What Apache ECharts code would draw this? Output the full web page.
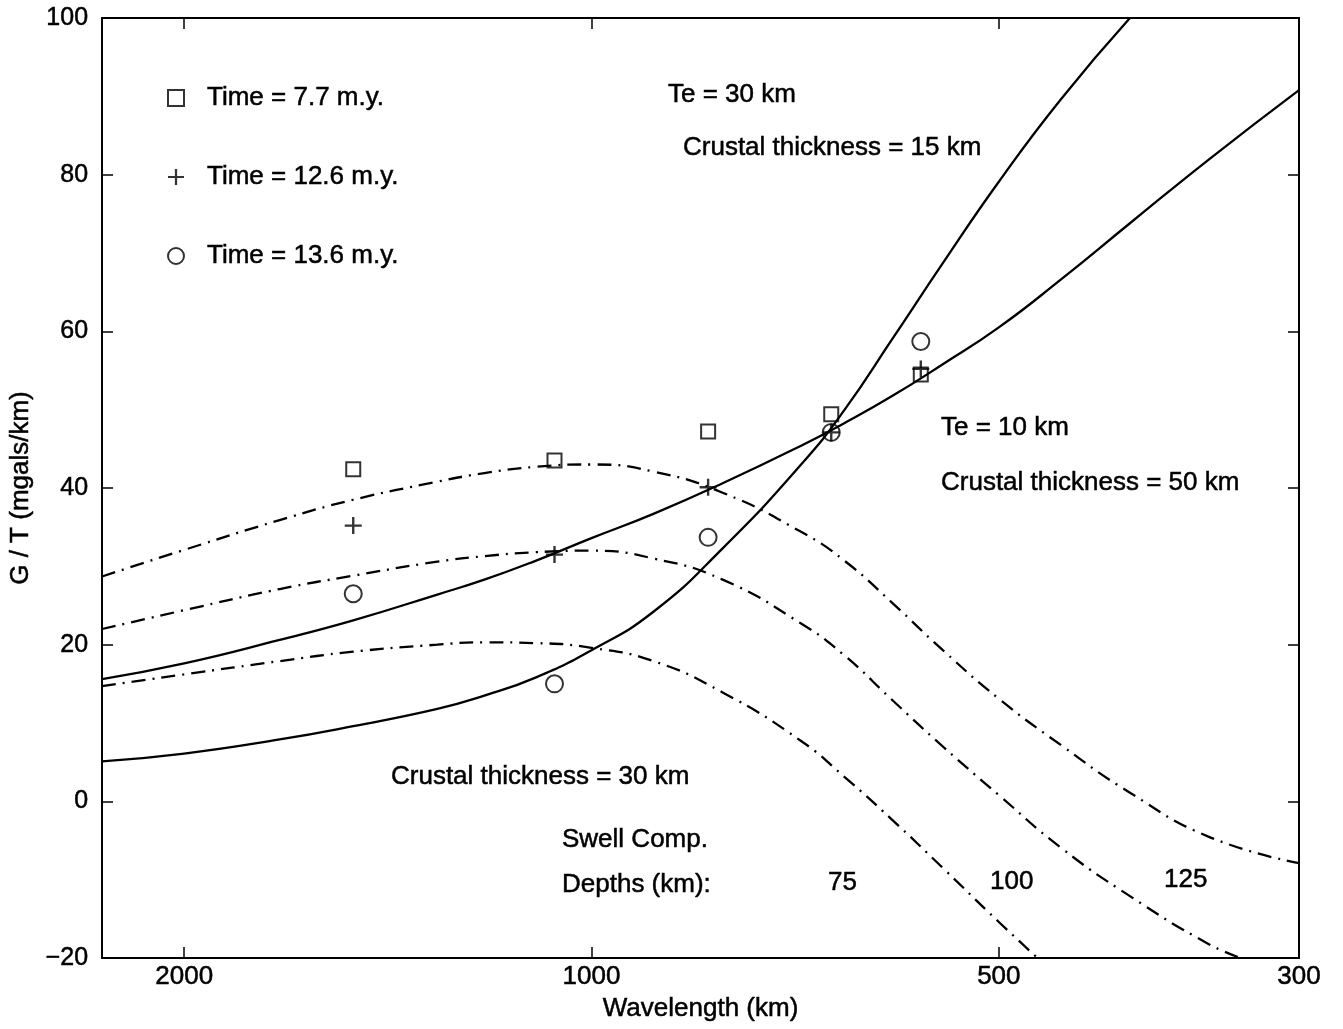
<!DOCTYPE html>
<html>
<head>
<meta charset="utf-8">
<title>G/T versus wavelength</title>
<script src="https://cdn.jsdelivr.net/npm/echarts@6/dist/echarts.min.js"></script>
<style>
  html, body { margin: 0; padding: 0; background: #ffffff; }
  #chart { width: 1343px; height: 1029px; }
</style>
</head>
<body>
<div id="chart"></div>
<script>
// Wavelength sample points (km) for the model curves
const wavelengths = [2300, 2000, 1700, 1500, 1300, 1200, 1100, 1000, 900, 800, 700, 650, 600, 550, 500, 450, 400, 350, 300];

// Te = 10 km, crustal thickness = 50 km
const te10Crust50 = [15.6, 17.6, 20.6, 23.1, 26.4, 28.3, 30.7, 33.6, 36.7, 40.6, 45.4, 48.3, 51.7, 55.8, 60.5, 66.6, 73.8, 81.9, 90.8];

// Te = 30 km, crustal thickness = 15 km (leaves the frame at the top near 400 km)
const te30Wavelengths = [2300, 2000, 1700, 1500, 1300, 1200, 1100, 1000, 900, 800, 700, 650, 600, 550, 500, 450, 400];
const te30Crust15 = [5.1, 6.1, 7.9, 9.6, 11.8, 13.5, 15.8, 19.3, 24.2, 32.3, 43.0, 50.0, 58.9, 68.7, 79.1, 89.6, 100.0];

// Swell compensation, crustal thickness = 30 km, depths 75 / 100 / 125 km
const swell75Wavelengths = [2300, 2000, 1700, 1500, 1300, 1200, 1100, 1000, 900, 800, 700, 650, 600, 550, 500, 460];
const swell75 = [14.7, 16.2, 17.9, 19.1, 20.0, 20.3, 20.2, 19.6, 17.9, 13.9, 7.7, 3.1, -2.3, -8.5, -15.4, -21.2];

const swell100Wavelengths = [2300, 2000, 1700, 1500, 1300, 1200, 1100, 1000, 900, 800, 700, 650, 600, 550, 500, 450, 400, 350, 330];
const swell100 = [22.0, 24.4, 27.1, 28.8, 30.6, 31.3, 31.8, 32.0, 31.0, 28.3, 22.7, 18.6, 13.0, 7.0, 0.8, -5.9, -12.1, -18.2, -20.1];

const swell125 = [28.7, 32.1, 35.9, 38.5, 40.8, 41.9, 42.7, 43.0, 42.1, 39.4, 34.4, 30.7, 25.4, 19.3, 13.1, 7.2, 1.1, -4.5, -7.9];

// Observed G/T ratios
const obsWavelengths = [1500, 1065, 820, 665, 571];
const time77 = [42.4, 43.5, 47.2, 49.4, 54.5];
const time126 = [35.2, 31.5, 40.1, 47.1, 55.2];
const time136 = [26.5, 15.0, 33.7, 47.1, 58.7];

const seriesNames = ['Time = 7.7 m.y.', 'Time = 12.6 m.y.', 'Time = 13.6 m.y.'];

// Axis ticks
const xTicks = [2000, 1000, 500, 300];
const yMin = -20, yMax = 100, yStep = 20;

const FONT = '"Liberation Sans", Arial, Helvetica, sans-serif';
const INK = '#000000';
const INK_WEIGHT = 0.5; // thin outline that gives the lettering a little more weight

const pairs = (xs, ys) => xs.map((x, i) => [x, ys[i]]);

const plusPath = 'path://M8.6,0H11.4V8.6H20V11.4H11.4V20H8.6V11.4H0V8.6H8.6Z';

function curve(data, dashed) {
  return {
    type: 'line',
    data: data,
    showSymbol: false,
    symbol: 'none',
    smooth: 0.5,
    clip: true,
    silent: true,
    z: 2,
    lineStyle: {
      color: INK,
      width: 2.3,
      type: dashed ? [14, 7, 2, 7] : 'solid'
    }
  };
}

function scatter(name, ys, symbol, size, filled) {
  return {
    type: 'scatter',
    name: name,
    data: pairs(obsWavelengths, ys),
    symbol: symbol,
    symbolSize: size,
    z: 5,
    itemStyle: filled
      ? { color: INK, borderWidth: 0 }
      : { color: 'rgba(0,0,0,0)', borderColor: INK, borderWidth: 2 }
  };
}

const textWeight = { textBorderColor: INK, textBorderWidth: INK_WEIGHT };

const logAxisBase = {
  type: 'log',
  logBase: 10,
  min: 300,
  max: 2300,
  inverse: true,
  splitLine: { show: false },
  axisLine: { show: true, onZero: false, lineStyle: { color: INK, width: 2 } },
  axisTick: { show: true, inside: true, length: 11, customValues: xTicks, lineStyle: { color: INK, width: 1.5 } },
  minorTick: { show: false }
};

const valueAxisBase = {
  type: 'value',
  min: yMin,
  max: yMax,
  interval: yStep,
  splitLine: { show: false },
  axisLine: { show: true, onZero: false, lineStyle: { color: INK, width: 2 } },
  axisTick: { show: true, inside: true, length: 11, lineStyle: { color: INK, width: 1.5 } }
};

const chart = echarts.init(document.getElementById('chart'), null, { renderer: 'canvas' });

chart.setOption({
  animation: false,
  backgroundColor: '#ffffff',
  textStyle: { fontFamily: FONT, color: INK },
  grid: { left: 98, right: 44, top: 18, bottom: 71, containLabel: false },
  legend: {
    orient: 'vertical',
    left: 162,
    top: 78,
    itemWidth: 16,
    itemHeight: 16,
    itemGap: 49,
    selectedMode: false,
    data: seriesNames,
    textStyle: Object.assign({ fontFamily: FONT, fontSize: 26, color: INK, lineHeight: 30, padding: [0, 0, 0, 18] }, textWeight)
  },
  xAxis: [
    Object.assign({}, logAxisBase, {
      position: 'bottom',
      name: 'Wavelength (km)',
      nameLocation: 'middle',
      nameGap: 38,
      nameTextStyle: Object.assign({ fontFamily: FONT, fontSize: 26, color: INK }, textWeight),
      axisLabel: Object.assign({
        show: true,
        customValues: xTicks,
        margin: 6,
        fontFamily: FONT,
        fontSize: 26,
        color: INK,
        formatter: v => String(Math.round(v))
      }, textWeight)
    }),
    Object.assign({}, logAxisBase, {
      position: 'top',
      axisLabel: { show: false }
    })
  ],
  yAxis: [
    Object.assign({}, valueAxisBase, {
      position: 'left',
      name: 'G / T (mgals/km)',
      nameLocation: 'middle',
      nameGap: 46,
      nameTextStyle: Object.assign({ fontFamily: FONT, fontSize: 26, color: INK }, textWeight),
      axisLabel: Object.assign({
        margin: 14,
        fontFamily: FONT,
        fontSize: 25,
        color: INK,
        formatter: v => (v < 0 ? '\u2212' + Math.abs(v) : String(v))
      }, textWeight)
    }),
    Object.assign({}, valueAxisBase, {
      position: 'right',
      axisLabel: { show: false }
    })
  ],
  series: [
    curve(pairs(wavelengths, te10Crust50), false),
    curve(pairs(te30Wavelengths, te30Crust15), false),
    curve(pairs(swell75Wavelengths, swell75), true),
    curve(pairs(swell100Wavelengths, swell100), true),
    curve(pairs(wavelengths, swell125), true),
    scatter(seriesNames[0], time77, 'rect', 14, false),
    scatter(seriesNames[1], time126, plusPath, 17, true),
    scatter(seriesNames[2], time136, 'circle', 17, false)
  ],
  graphic: [
    ['Te = 30 km', 668, 95],
    ['Crustal thickness = 15 km', 683, 148],
    ['Te = 10 km', 941, 428],
    ['Crustal thickness = 50 km', 941, 483],
    ['Crustal thickness = 30 km', 391, 777],
    ['Swell Comp.', 562, 840],
    ['Depths (km):', 562, 885],
    ['75', 828, 883],
    ['100', 990, 882],
    ['125', 1164, 880]
  ].map(([text, x, y]) => ({
    type: 'text',
    x: x,
    y: y,
    silent: true,
    z: 10,
    style: {
      text: text,
      fontFamily: FONT,
      fontSize: 26,
      fill: INK,
      stroke: INK,
      lineWidth: INK_WEIGHT,
      verticalAlign: 'middle',
      align: 'left'
    }
  }))
});
</script>
</body>
</html>
